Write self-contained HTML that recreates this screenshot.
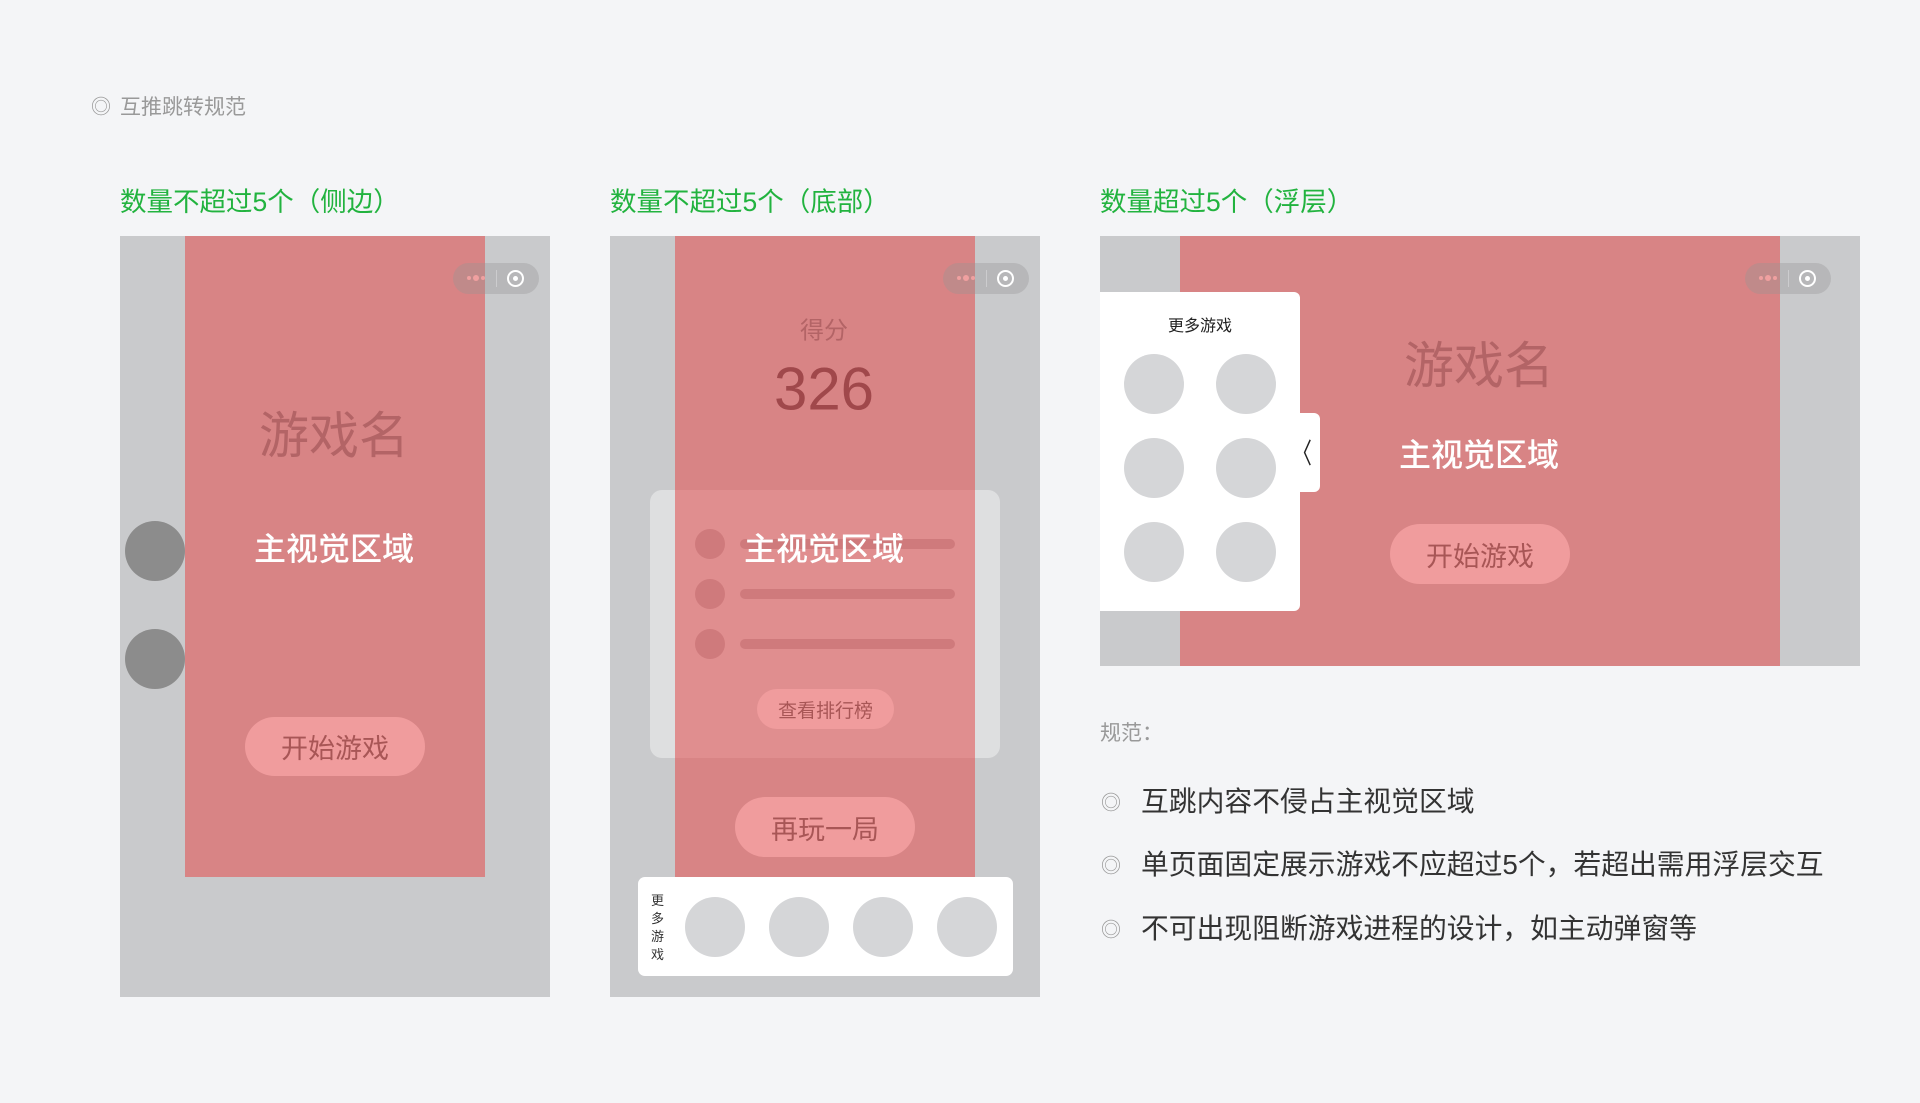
<!DOCTYPE html>
<html><head><meta charset="utf-8"><style>
*{margin:0;padding:0;box-sizing:border-box}
body{width:1920px;height:1103px;background:#f4f5f7;position:relative;overflow:hidden;font-family:"Liberation Sans","Noto Sans CJK SC",sans-serif}
.a{position:absolute}
.c{position:absolute;transform:translate(-50%,-50%);white-space:nowrap}
.gray{background:#c9cacc}
.red{background:#d88485}
.g{color:#22b33f;font-size:26.5px}
.cap{position:absolute;width:86px;height:31px;border-radius:16px;background:rgba(150,150,150,0.35)}
.cap i{position:absolute;left:14px;top:13px;width:4px;height:4px;border-radius:50%;background:#f0a0a0;box-shadow:7px 0 0 1px #f0a0a0,14px 0 0 #f0a0a0}
.cap b{position:absolute;left:54px;top:7px;width:17px;height:17px;border-radius:50%;border:2px solid #fff}
.cap b:after{content:"";position:absolute;left:4px;top:4px;width:5px;height:5px;border-radius:50%;background:#fff}
.cap s{position:absolute;left:43px;top:7px;width:1px;height:17px;background:rgba(255,255,255,.3)}
.circ{position:absolute;border-radius:50%}
.btn{position:absolute;background:#f09c9d;border-radius:30px;color:#a85656;font-size:27px;display:flex;align-items:center;justify-content:center}
.gn{color:#b36466;font-size:50px}
.mv{color:#fff;font-size:32px;font-weight:500}
.li{position:absolute;font-size:27.8px;color:#333;transform:translateY(-50%);white-space:nowrap}
.bu{position:absolute;font-size:20px;color:#999;transform:translate(-50%,-50%)}
</style></head><body>
<div class="c" style="left:101px;top:105px;color:#999;font-size:20px">◎</div>
<div class="a" style="left:120px;top:91px;color:#999;font-size:21px">互推跳转规范</div>

<div class="a g" style="left:120px;top:180px">数量不超过5个（侧边）</div>
<div class="a g" style="left:610px;top:180px">数量不超过5个（底部）</div>
<div class="a g" style="left:1100px;top:180px">数量超过5个（浮层）</div>

<!-- phone 1 -->
<div class="a gray" style="left:120px;top:236px;width:430px;height:761px"></div>
<div class="a red" style="left:185px;top:236px;width:300px;height:641px"></div>
<div class="cap" style="left:453px;top:263px"><i></i><s></s><b></b></div>
<div class="c gn" style="left:334px;top:432px">游戏名</div>
<div class="c mv" style="left:334px;top:547px">主视觉区域</div>
<div class="circ" style="left:125px;top:521px;width:60px;height:60px;background:#8c8c8c"></div>
<div class="circ" style="left:125px;top:629px;width:60px;height:60px;background:#8c8c8c"></div>
<div class="btn" style="left:245px;top:717px;width:180px;height:59px">开始游戏</div>

<!-- phone 2 -->
<div class="a gray" style="left:610px;top:236px;width:430px;height:761px"></div>
<div class="a red" style="left:675px;top:236px;width:300px;height:641px"></div>
<div class="cap" style="left:943px;top:263px"><i></i><s></s><b></b></div>
<div class="c" style="left:824px;top:328px;color:#b36466;font-size:24px">得分</div>
<div class="c" style="left:824px;top:389px;color:#a0484b;font-size:60px">326</div>
<div class="a" style="left:650px;top:490px;width:350px;height:268px;border-radius:12px;background:rgba(255,255,255,0.4)"></div>
<div class="a" style="left:675px;top:490px;width:300px;height:268px;background:#e08e8f"></div>
<div class="circ" style="left:695px;top:529px;width:30px;height:30px;background:#cf7a7c"></div>
<div class="circ" style="left:695px;top:579px;width:30px;height:30px;background:#cf7a7c"></div>
<div class="circ" style="left:695px;top:629px;width:30px;height:30px;background:#cf7a7c"></div>
<div class="a" style="left:740px;top:539px;width:215px;height:10px;border-radius:5px;background:#cf7a7c"></div>
<div class="a" style="left:740px;top:589px;width:215px;height:10px;border-radius:5px;background:#cf7a7c"></div>
<div class="a" style="left:740px;top:639px;width:215px;height:10px;border-radius:5px;background:#cf7a7c"></div>
<div class="c mv" style="left:824px;top:547px">主视觉区域</div>
<div class="btn" style="left:757px;top:689px;width:137px;height:40px;font-size:19px">查看排行榜</div>
<div class="btn" style="left:735px;top:797px;width:180px;height:60px">再玩一局</div>
<div class="a" style="left:638px;top:877px;width:375px;height:99px;background:#fff;border-radius:7px"></div>
<div class="a" style="left:651px;top:892px;width:14px;font-size:13px;line-height:18px;color:#333">更多游戏</div>
<div class="circ" style="left:685px;top:897px;width:60px;height:60px;background:#d5d6d8"></div>
<div class="circ" style="left:769px;top:897px;width:60px;height:60px;background:#d5d6d8"></div>
<div class="circ" style="left:853px;top:897px;width:60px;height:60px;background:#d5d6d8"></div>
<div class="circ" style="left:937px;top:897px;width:60px;height:60px;background:#d5d6d8"></div>

<!-- phone 3 -->
<div class="a gray" style="left:1100px;top:236px;width:760px;height:430px"></div>
<div class="a red" style="left:1180px;top:236px;width:600px;height:430px"></div>
<div class="cap" style="left:1745px;top:263px"><i></i><s></s><b></b></div>
<div class="c gn" style="left:1479px;top:362px">游戏名</div>
<div class="c mv" style="left:1479px;top:453px">主视觉区域</div>
<div class="btn" style="left:1390px;top:524px;width:180px;height:60px">开始游戏</div>
<div class="a" style="left:1100px;top:292px;width:200px;height:319px;background:#fff;border-radius:0 6px 6px 0"></div>
<div class="a" style="left:1296px;top:413px;width:24px;height:79px;background:#fff;border-radius:0 6px 6px 0"></div>
<div class="c" style="left:1302px;top:452px;font-size:28px;color:#222;transform:translate(-50%,-50%) scaleX(0.7)">〈</div>
<div class="c" style="left:1200px;top:324px;font-size:16px;color:#222">更多游戏</div>
<div class="circ" style="left:1124px;top:354px;width:60px;height:60px;background:#d5d6d8"></div>
<div class="circ" style="left:1216px;top:354px;width:60px;height:60px;background:#d5d6d8"></div>
<div class="circ" style="left:1124px;top:438px;width:60px;height:60px;background:#d5d6d8"></div>
<div class="circ" style="left:1216px;top:438px;width:60px;height:60px;background:#d5d6d8"></div>
<div class="circ" style="left:1124px;top:522px;width:60px;height:60px;background:#d5d6d8"></div>
<div class="circ" style="left:1216px;top:522px;width:60px;height:60px;background:#d5d6d8"></div>

<div class="a" style="left:1100px;top:717px;font-size:21px;color:#999">规范：</div>
<div class="bu" style="left:1111px;top:801px">◎</div>
<div class="li" style="left:1141px;top:800px">互跳内容不侵占主视觉区域</div>
<div class="bu" style="left:1111px;top:864px">◎</div>
<div class="li" style="left:1141px;top:863px">单页面固定展示游戏不应超过5个，若超出需用浮层交互</div>
<div class="bu" style="left:1111px;top:928px">◎</div>
<div class="li" style="left:1141px;top:927px">不可出现阻断游戏进程的设计，如主动弹窗等</div>
</body></html>
